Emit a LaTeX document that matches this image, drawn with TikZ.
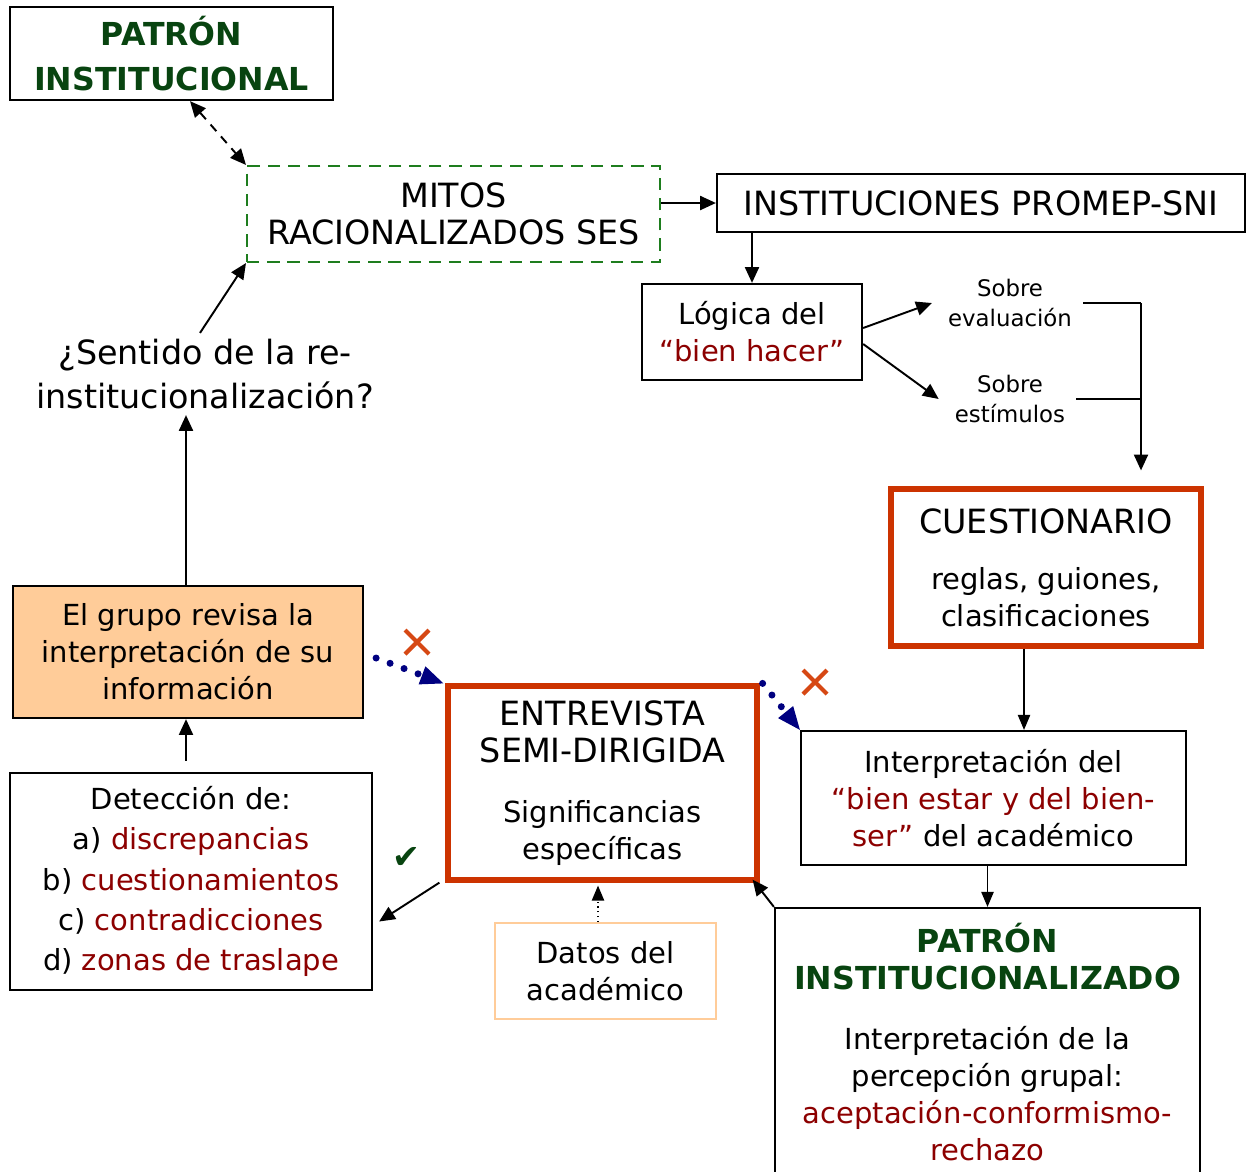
\documentclass[tikz,border=0pt]{standalone}
\usepackage{fontspec}
\setmainfont{DejaVu Sans}
\usepackage{xcolor}
\usetikzlibrary{arrows.meta}

\definecolor{titgreen}{RGB}{8,68,16}
\definecolor{dashgreen}{RGB}{30,125,30}
\definecolor{wine}{RGB}{140,0,0}
\definecolor{rust}{RGB}{204,51,0}
\definecolor{peach}{RGB}{255,204,153}
\definecolor{dotnavy}{RGB}{0,0,128}
\definecolor{crossred}{RGB}{214,72,20}

\newcommand{\bxfont}{\fontsize{16.5}{21}\selectfont}
\newcommand{\capfont}{\fontsize{19}{21}\selectfont}
\newcommand{\ttlfont}{\fontsize{18}{21}\selectfont\bfseries}
\newcommand{\sobrefont}{\fontsize{13}{17}\selectfont}
\newcommand{\askfont}{\fontsize{19}{25}\selectfont}

\tikzset{
	box/.style={draw, line width=1.3pt, align=center, inner sep=0pt, font=\bxfont},
	redbox/.style={box, draw=rust, line width=3pt},
	conn/.style={-{Triangle[length=9pt,width=8pt]}, line width=1.1pt},
	thinconn/.style={-{Triangle[length=8.5pt,width=7pt]}, line width=0.7pt},
	dotconn/.style={dotnavy, line width=4pt, line cap=round, dash pattern=on 0pt off 8.5pt,
		-{Triangle[length=13pt,width=11pt,line width=0pt]}},
	xmark/.style={crossred, line width=2.4pt}
}

\begin{document}
\begin{tikzpicture}[x=0.02cm, y=-0.02cm]
	\useasboundingbox (0,0) rectangle (1250,1171);
	
	% top row
	\node[box, minimum width=6.46cm, minimum height=1.86cm, font=\ttlfont, text=titgreen]
		(pinst) at (171.5,53.5) {PATRÓN\\[5pt]INSTITUCIONAL};
	\node[box, draw=dashgreen, line width=1.2pt, dash pattern=on 7pt off 4.5pt,
		minimum width=8.26cm, minimum height=1.92cm, font=\capfont]
		(mitos) at (453.5,214) {MITOS\\RACIONALIZADOS SES};
	\node[box, minimum width=10.56cm, minimum height=1.16cm, font=\capfont]
		(inst) at (981,203) {INSTITUCIONES PROMEP-SNI};
	
	% logica del bien hacer
	\node[box, minimum width=4.4cm, minimum height=1.92cm]
		(logica) at (752,332) {Lógica del\\\textcolor{wine}{“bien hacer”}};
	\node[font=\sobrefont, align=center] (eval) at (1010,303) {Sobre\\evaluación};
	\node[font=\sobrefont, align=center] (estim) at (1010,399) {Sobre\\estímulos};
	\coordinate (bk) at (1141,306);
	
	\node[redbox, minimum width=6.2cm, minimum height=3.14cm]
		(cuest) at (1046,567.5) {{\capfont CUESTIONARIO}\\[11pt]reglas, guiones,\\clasificaciones};
	\node[box, minimum width=7.7cm, minimum height=2.68cm]
		(interp) at (993.5,798) {Interpretación del\\\textcolor{wine}{“bien estar y del bien-}\\\textcolor{wine}{ser”} del académico};
	\node[box, minimum width=8.5cm, minimum height=5.36cm]
		(pinz) at (987.5,1042) {{\ttlfont\color{titgreen}PATRÓN}\\{\ttlfont\color{titgreen}INSTITUCIONALIZADO}\\[13pt]
		Interpretación de la\\percepción grupal:\\\textcolor{wine}{aceptación-conformismo-}\\\textcolor{wine}{rechazo}};
	
	% middle
	\node[redbox, minimum width=6.18cm, minimum height=3.88cm, font=\bxfont]
		(entr) at (602.5,783) {{\capfont ENTREVISTA}\\{\capfont SEMI-DIRIGIDA}\\[13pt]Significancias\\específicas};
	\node[box, draw=peach, line width=1.3pt, minimum width=4.42cm, minimum height=1.92cm]
		(datos) at (605.5,971) {Datos del\\académico};
	
	% left column
	\node[font=\askfont, align=center] (sent) at (205,374) {¿Sentido de la re-\\institucionalización?};
	\node[box, fill=peach, minimum width=7cm, minimum height=2.64cm]
		(grupo) at (188,652) {El grupo revisa la\\interpretación de su\\información};
	\node[box, minimum width=7.24cm, minimum height=4.34cm, font=\fontsize{16.5}{23}\selectfont]
		(detec) at (191,881.5) {Detección de:\\a) \textcolor{wine}{discrepancias}\\b) \textcolor{wine}{cuestionamientos}\\
		c) \textcolor{wine}{contradicciones}\\d) \textcolor{wine}{zonas de traslape}};
	\node[text=titgreen, font=\fontsize{19}{19}\selectfont] (chk) at (406,858) {✔};
	
	% connectors
	\draw[{Triangle[length=9pt,width=8pt]}-{Triangle[length=9pt,width=8pt]}, line width=1.1pt,
		dash pattern=on 5pt off 4pt] ([xshift=0.37cm]pinst.south) -- (mitos.north west);
	\draw[conn] (mitos.east |- inst.west) -- (inst.west);
	\draw[conn] (inst.south -| logica.north) -- (logica.north);
	\draw[conn] ([yshift=0.08cm]logica.east) -- ([xshift=-0.2cm]eval.west);
	\draw[conn] ([yshift=-0.24cm]logica.east) -- ([xshift=-0.2cm]estim.west);
	\draw[line width=1.1pt] ([xshift=0.1cm]eval.east) -- (eval.east -| bk);
	\draw[line width=1.1pt] ([xshift=0.1cm]estim.east) -- (estim.east -| bk);
	\draw[conn] (eval.east -| bk) -- ([yshift=0.32cm]cuest.north -| bk);
	\draw[thinconn] ([xshift=-0.44cm]cuest.south) -- ([xshift=-0.44cm]cuest.south |- interp.north);
	\draw[thinconn] (interp.south -| pinz.north) -- (pinz.north);
	\draw[conn] (pinz.north west) -- ([shift={(-0.14cm,0.06cm)}]entr.south east);
	\draw[conn] ([xshift=-0.12cm]entr.south west) -- ([shift={(0.12cm,-0.8cm)}]detec.east);
	\draw[thinconn, dotted] ([xshift=-0.15cm]datos.north) -- ([xshift=-0.15cm,yshift=-0.06cm]datos.north |- entr.south);
	\draw[conn] ([shift={(-0.1cm,0.22cm)}]detec.north) -- ([xshift=-0.04cm]grupo.south);
	\draw[conn] ([xshift=-0.04cm]grupo.north) -- ([xshift=-0.04cm]grupo.north |- sent.south);
	\draw[conn] ([xshift=-0.1cm]sent.north) -- (mitos.south west);
	
	% dotted links to the interview
	\draw[dotconn] ([shift={(0.24cm,-0.12cm)}]grupo.east) -- ([xshift=-0.04cm]entr.north west);
	\draw[dotconn] ([xshift=0.06cm]entr.north east) -- (interp.north west);
	\foreach \cx/\cy in {417/642, 815/682}{
		\draw[xmark] (\cx-12,\cy-12) -- (\cx+12,\cy+12) (\cx-12,\cy+12) -- (\cx+12,\cy-12);
	}
\end{tikzpicture}
\end{document}
